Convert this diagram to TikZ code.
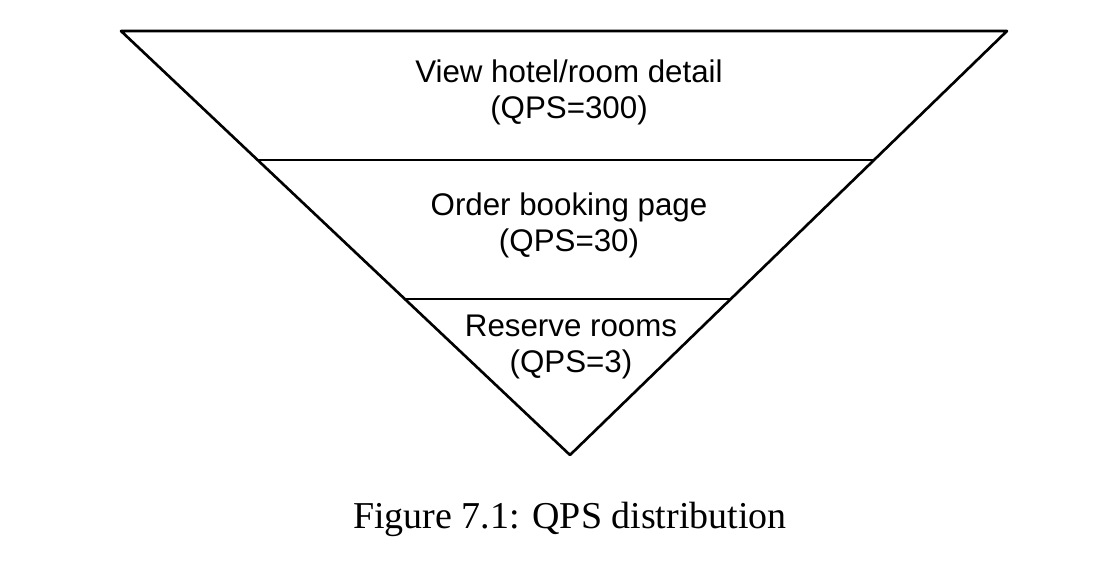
\documentclass[tikz,border=0pt]{standalone}
\usepackage{fontspec}
\setmainfont{Liberation Serif}
\newfontfamily\labelfont{Liberation Sans}
\usetikzlibrary{positioning}
\usetikzlibrary{calc}

\begin{document}
\begin{tikzpicture}[x=0.01cm,y=-0.01cm,line cap=round,line join=round]
\tikzset{level/.style={font=\labelfont\fontsize{8.9}{10.2}\selectfont,align=center,inner sep=0pt}}
\useasboundingbox (0,0) rectangle (1114,582);
\coordinate (topl) at (121,31);
\coordinate (topr) at (1007,31);
\coordinate (tip) at (570,455);
\coordinate (midl) at (258,160);
\coordinate (midr) at (873,160);
\coordinate (lowl) at (406,299);
\coordinate (lowr) at (731,299);
\draw [line width=0.75pt] (topl)-- (topr)-- (tip)-- cycle;
\draw [line width=0.75pt] (midl)-- (midr);
\draw [line width=0.75pt] (lowl)-- (lowr);
\node[level] (view) at (569,92) {View hotel/room detail\\(QPS=300)};
\node[level] (order) at (569,225) {Order booking page\\(QPS=30)};
\node[level] (reserve) at (571,347) {Reserve rooms\\(QPS=3)};
\node[font=\fontsize{10.8}{12}\selectfont,inner sep=0pt] (caption) at (570,519) {Figure 7.1: QPS distribution};
\end{tikzpicture}
\end{document}
